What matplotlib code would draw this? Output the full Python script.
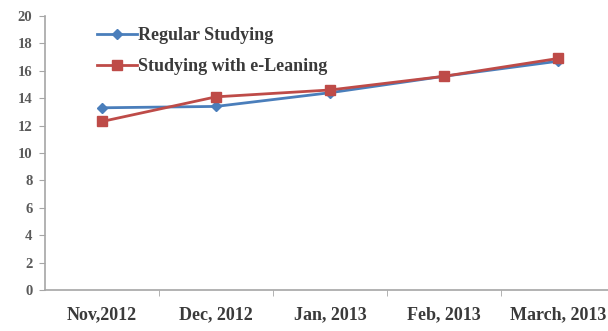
import numpy as np
import matplotlib
matplotlib.use('Agg')
import matplotlib.pyplot as plt

plt.rcParams['font.family'] = ['Liberation Serif', 'DejaVu Serif']
plt.rcParams['font.weight'] = 'bold'

months = ["Nov,2012", "Dec, 2012", "Jan, 2013", "Feb, 2013", "March, 2013"]
regular = [13.3, 13.4, 14.4, 15.6, 16.7]
elearning = [12.3, 14.1, 14.6, 15.6, 16.9]

blue = "#4a7ebb"
red = "#be4b48"
axis_grey = "#a6a6a6"

fig = plt.figure(figsize=(6.08, 3.31), dpi=100)
ax = fig.add_axes([45 / 608, 41 / 331, 570 / 608, 274 / 331])

x = np.arange(len(months))
ax.plot(x, regular, color=blue, lw=2, marker="D", ms=5, label="Regular Studying")
ax.plot(x, elearning, color=red, lw=2, marker="s", ms=7, label="Studying with e-Leaning")

ax.set_xlim(-0.5, len(months) - 0.5)
ax.set_ylim(0, 20)
ax.set_yticks(range(0, 21, 2))
ax.set_xticks(x)
ax.set_xticklabels(months, fontsize=13, color="#3a3a3a")
ax.set_xticks(np.arange(0.5, len(months) - 0.5), minor=True)
ax.tick_params(axis="x", which="major", length=0, pad=12)
ax.tick_params(axis="x", which="minor", length=4, color=axis_grey)
ax.tick_params(axis="y", length=4, color=axis_grey, labelsize=10.5, labelcolor="#5a5a5a", pad=5)
# last label sits against the right edge, pull it in slightly
ax.get_xticklabels()[-1].set_x(x[-1] - 0.03)

for side in ["top", "right"]:
    ax.spines[side].set_visible(False)
for side in ["left", "bottom"]:
    ax.spines[side].set_color(axis_grey)
    ax.spines[side].set_linewidth(1.2)

ax.legend(loc="upper left", bbox_to_anchor=(0.079, 0.985), frameon=False,
          fontsize=13, handlelength=2.2, handletextpad=0.05,
          labelspacing=0.78, borderaxespad=0, labelcolor="#3a3a3a")

fig.savefig("out.png", dpi=100)
